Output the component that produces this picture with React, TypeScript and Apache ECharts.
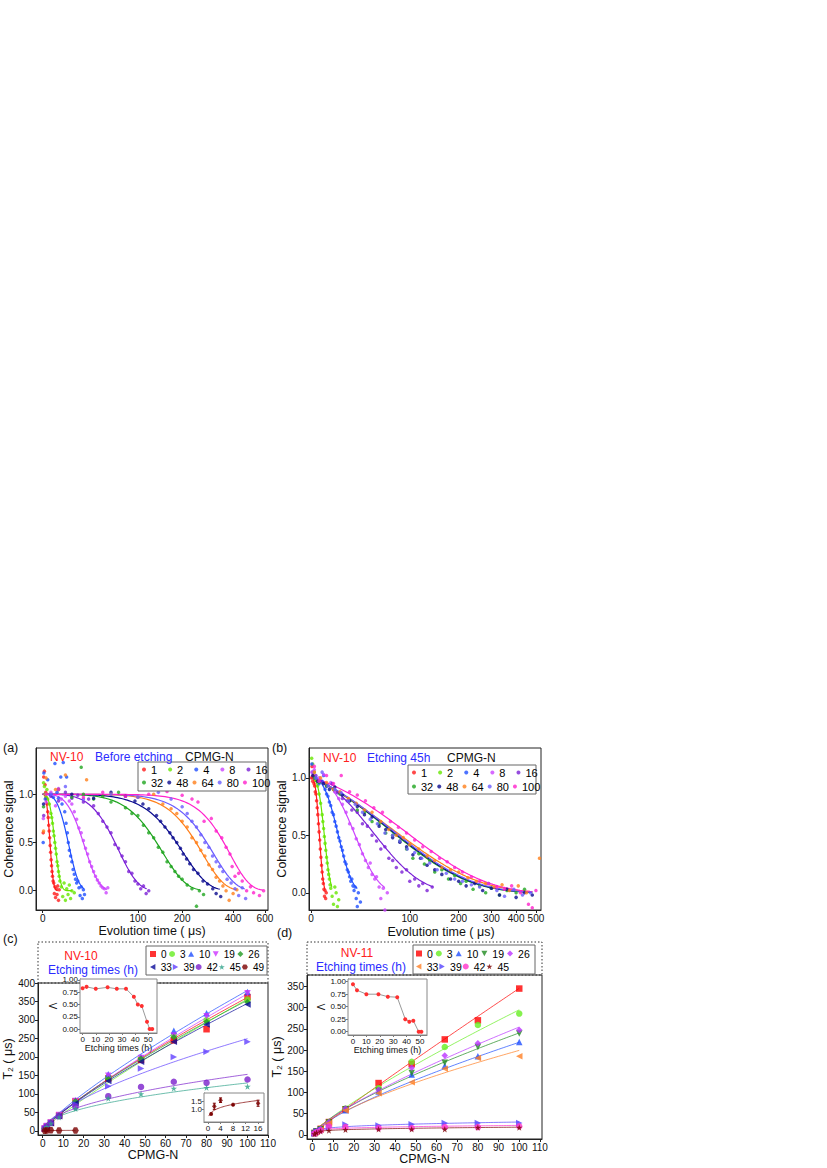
import React, { useEffect, useRef } from "react";
import * as echarts from "echarts";

const FONT = "'Liberation Sans', Arial, Helvetica, sans-serif";

/* ---------------- panels (a) and (b): coherence decays ---------------- */
const pulseLabels = ["1", "2", "4", "8", "16", "32", "48", "64", "80", "100"];
const pulseColors = ["#ff1a1a", "#66e600", "#1f4fff", "#cc44ff", "#7a1fd6", "#1fa51f", "#0b0b8f", "#ff7f1a", "#6a5cff", "#ff22cc"];
const timeTicksA = [0, 100, 200, 400, 600];
const timeTicksB = [0, 100, 200, 300, 400, 500];
const coherenceTicks = [0, 0.5, 1.0];
// quasi-logarithmic time axes: u = ln(1 + t / offset)
const timeOffsetA = 50;
const timeOffsetB = 60;

// stretched-exponential fits C(t) = exp(-(t/T2)^n)
const fitT2A = [4.97, 8.59, 19.4, 33.8, 73.6, 153.7, 208, 270, 313, 388];
const fitExpA = [3, 3, 3, 3, 3, 3, 3, 3.5, 3.5, 4];
const fitEndA = [10, 20, 31, 55, 116, 257, 336, 419, 465, 584];
const fitT2B = [5.9, 9.6, 21.7, 39, 68.6, 110, 112, 120, 115, 137];
const fitExpB = [3, 3, 2.5, 2.2, 1.5, 1.15, 1.15, 1.1, 1.15, 1.2];
const fitEndB = [9, 14, 35, 65, 141, 480, 480, 480, 480, 480];

// (a) NV-10 before etching: [t (us), coherence]
const cohA1 = [[0.3,0.6],[0.6,1.18],[1,1.24],[1.4,1.1],[1.8,1.02],[2.2,0.96],[2.6,0.9],[3,0.82],[3.3,0.76],[3.6,0.68],[3.9,0.62],[4.2,0.55],[4.5,0.47],[4.8,0.4],[5.1,0.32],[5.4,0.26],[5.7,0.2],[6,0.15],[6.4,0.1],[6.8,0.08],[7.2,-0.03],[7.6,0.04],[8,-0.07],[8.5,0.02],[9,-0.04],[9.5,0.05],[10,-0.1],[10.5,0.01]];
const cohA2 = [[0.5,1.12],[1,1.08],[1.5,1.0],[2,0.97],[2.5,1.05],[3,0.95],[4,0.9],[5,0.8],[5.5,0.76],[6,0.7],[6.5,0.62],[7,0.57],[7.5,0.5],[8,0.44],[8.5,0.38],[9,0.3],[9.5,0.26],[10,0.2],[10.5,0.15],[11,0.1],[12,0.04],[13,-0.06],[14,0.08],[15,-0.1],[16,0.02],[17,-0.04],[18,0.06],[19,-0.08],[20,0.0],[22,-0.02]];
const cohA4 = [[0.3,0.5],[0.7,1.22],[1.5,0.95],[3,1.15],[5,1.0],[6.5,0.97],[7.6,1.32],[9,1.02],[10,0.96],[11.6,1.18],[12.5,0.9],[13.4,1.33],[14.5,0.82],[15.9,1.18],[15.5,0.7],[16.5,0.6],[17.2,0.5],[18,0.42],[19,0.36],[20,0.3],[21,0.22],[22,0.17],[23,0.12],[24,0.08],[25,0.1],[26,0.03],[27,-0.05],[28,0.04],[29,-0.08],[30,0.01],[31,-0.04]];
const cohA8 = [[0.4,0.75],[2,0.92],[5,1.02],[8,0.88],[10,1.06],[12,0.95],[15,0.98],[18,0.93],[20,0.9],[22,0.82],[24,0.74],[26,0.65],[28,0.6],[30,0.52],[32,0.44],[34,0.38],[36,0.3],[38,0.25],[40,0.2],[42,0.15],[44,0.11],[46,0.08],[48,0.05],[50,0.03],[52,0.02],[54,-0.02],[56,0.03]];
const cohA16 = [[0.6,0.78],[5,0.98],[10,0.93],[15,1.02],[20,0.96],[25,0.99],[30,0.92],[35,0.95],[40,0.88],[45,0.8],[50,0.72],[55,0.66],[60,0.6],[65,0.48],[70,0.44],[75,0.36],[80,0.3],[85,0.2],[90,0.18],[95,0.1],[100,0.07],[105,0.02],[110,0.05],[115,-0.03],[120,0.0]];
const cohA32 = [[0.5,0.87],[10,1.05],[20,0.97],[28,1.28],[30,1.0],[40,0.95],[50,0.98],[60,0.92],[70,1.02],[80,0.86],[90,0.8],[100,0.78],[110,0.68],[120,0.6],[130,0.55],[140,0.45],[150,0.4],[160,0.3],[170,0.25],[180,0.2],[190,0.15],[200,0.12],[215,0.06],[230,0.02],[245,-0.16],[255,0.0],[270,-0.04]];
const cohA48 = [[0.5,0.9],[20,1.0],[40,0.96],[60,1.02],[80,0.98],[95,0.93],[109,0.9],[120,0.85],[136,0.78],[145,0.72],[155,0.66],[167,0.6],[175,0.55],[185,0.5],[195,0.44],[203,0.38],[213,0.33],[223,0.28],[235,0.22],[250,0.18],[268,0.1],[285,0.07],[306,0.02],[320,-0.03],[340,-0.06]];
const cohA64 = [[0.5,0.62],[2,1.17],[8,1.05],[15,1.2],[33,1.15],[60,1.0],[100,0.97],[130,1.0],[150,0.9],[170,0.85],[185,0.8],[200,0.72],[215,0.66],[230,0.55],[245,0.5],[260,0.42],[275,0.36],[290,0.27],[305,0.22],[320,0.14],[335,0.1],[350,0.05],[365,0.0],[380,-0.1],[400,-0.03],[420,0.01]];
const cohA80 = [[5,1.0],[15,1.08],[30,0.95],[60,1.0],[100,0.97],[140,1.02],[170,0.95],[200,0.87],[215,0.8],[230,0.72],[245,0.66],[260,0.58],[275,0.5],[290,0.45],[305,0.36],[320,0.3],[335,0.25],[350,0.2],[370,0.12],[390,0.08],[410,0.02],[430,-0.05],[450,0.03],[470,-0.08]];
const cohA100 = [[2,1.0],[10,1.05],[30,0.97],[50,1.02],[80,0.98],[120,1.0],[160,1.03],[200,0.99],[230,0.95],[250,0.92],[272,0.72],[300,0.75],[320,0.62],[345,0.55],[365,0.45],[384,0.38],[395,0.25],[410,0.15],[430,0.18],[450,0.1],[476,0.0],[500,0.04],[520,-0.02],[560,-0.05],[590,0.0]];
const cohA = [cohA1, cohA2, cohA4, cohA8, cohA16, cohA32, cohA48, cohA64, cohA80, cohA100];

// (b) NV-10 after 45 h etching: [t (us), coherence]
const cohB1 = [[0.3,1.0],[0.6,1.1],[1,0.97],[1.4,1.02],[1.8,0.95],[2.2,0.93],[2.6,0.88],[3,0.86],[3.4,0.8],[3.8,0.74],[4.2,0.68],[4.6,0.6],[5,0.53],[5.4,0.46],[5.8,0.38],[6.2,0.31],[6.6,0.24],[7,0.18],[7.4,0.12],[7.8,0.08],[8.2,0.03],[8.6,-0.03],[9,0.02],[9.4,-0.05],[9.8,0.0]];
const cohB2 = [[0.4,1.17],[1,1.12],[2,1.05],[3,0.98],[4,0.93],[5,0.86],[6,0.78],[7,0.68],[7.5,0.62],[8,0.56],[8.5,0.49],[9,0.43],[9.5,0.37],[10,0.31],[10.5,0.26],[11,0.2],[11.5,0.16],[12,0.12],[12.5,0.07],[13,0.04],[14,-0.03],[15,-0.1],[16,0.05],[17,0.0],[18,-0.12],[19,-0.06]];
const cohB4 = [[0.5,1.12],[1,1.05],[3,1.0],[5,0.95],[7,0.97],[8,1.02],[9,0.9],[10,0.86],[11,0.84],[12,0.79],[13,0.76],[14,0.7],[15,0.68],[16,0.62],[17,0.58],[18,0.53],[19,0.48],[20,0.45],[21,0.4],[22,0.37],[23,0.32],[24,0.27],[25,0.25],[26,0.2],[27,0.18],[28,0.14],[29,0.1],[30,0.12],[31,0.06],[32,0.02],[33,0.05],[34,-0.05],[35,-0.12],[36,0.0],[38,-0.08]];
const cohB8 = [[0.5,1.05],[2,1.07],[5,1.0],[8,1.03],[10,0.93],[13,0.96],[16,0.88],[19,0.82],[22,0.77],[25,0.7],[28,0.6],[31,0.56],[34,0.47],[37,0.42],[40,0.34],[43,0.28],[46,0.22],[48,0.26],[50,0.16],[53,0.12],[55,0.14],[58,0.05],[60,-0.05],[63,0.04],[65,-0.15],[68,0.0]];
const cohB16 = [[3,1.02],[6,0.97],[10,0.93],[14,0.95],[18,0.87],[22,0.82],[26,0.8],[30,0.72],[35,0.7],[40,0.6],[45,0.58],[50,0.5],[55,0.45],[60,0.38],[65,0.4],[70,0.3],[75,0.28],[80,0.22],[88,0.18],[95,0.2],[100,0.1],[108,0.12],[115,0.06],[122,0.08],[130,0.02],[140,0.05]];
const cohB32 = [[2,1.0],[5,0.96],[10,0.93],[15,0.9],[20,0.86],[28,0.8],[35,0.72],[42,0.7],[50,0.62],[58,0.6],[66,0.52],[75,0.5],[85,0.45],[95,0.38],[105,0.3],[115,0.34],[125,0.25],[135,0.28],[145,0.18],[160,0.2],[175,0.12],[190,0.15],[205,0.08],[220,0.1],[240,0.03],[260,0.06],[280,0.0],[300,0.04],[330,-0.02],[360,0.02],[400,0.0],[440,0.03]];
const cohB48 = [[1,1.02],[4,0.97],[8,0.95],[12,0.9],[16,0.92],[22,0.85],[28,0.8],[35,0.75],[42,0.68],[50,0.66],[58,0.58],[66,0.55],[75,0.48],[85,0.44],[95,0.4],[105,0.33],[118,0.3],[130,0.24],[145,0.2],[160,0.16],[180,0.12],[200,0.1],[220,0.06],[245,0.08],[270,0.02],[300,0.04],[330,-0.02],[360,0.03],[400,-0.04],[440,0.0],[480,-0.02]];
const cohB64 = [[2,1.05],[6,1.0],[10,0.96],[15,0.9],[20,0.88],[27,0.82],[34,0.78],[42,0.72],[50,0.7],[60,0.62],[70,0.55],[80,0.5],[90,0.48],[100,0.42],[115,0.38],[130,0.32],[145,0.28],[160,0.22],[180,0.2],[200,0.18],[225,0.13],[250,0.1],[280,0.08],[310,0.05],[340,0.07],[370,0.02],[410,0.06],[450,0.0],[520,0.3]];
const cohB80 = [[3,1.0],[7,1.05],[11,0.93],[16,0.9],[21,0.87],[27,0.8],[33,0.77],[40,0.7],[48,0.64],[56,0.6],[65,0.52],[75,0.5],[85,0.45],[96,0.38],[108,0.35],[120,0.3],[135,0.26],[150,0.2],[170,0.17],[190,0.12],[210,0.1],[235,0.07],[260,0.05],[290,0.08],[320,0.02],[350,-0.03],[390,0.03],[430,-0.02],[470,0.0]];
const cohB100 = [[2,1.1],[5,0.97],[10,1.02],[15,0.95],[21,1.02],[28,0.88],[35,0.85],[43,0.8],[52,0.74],[62,0.7],[72,0.62],[83,0.57],[95,0.52],[108,0.46],[122,0.4],[138,0.36],[155,0.3],[172,0.27],[190,0.22],[210,0.18],[235,0.14],[260,0.1],[290,0.08],[320,0.05],[350,0.03],[380,0.06],[420,0.0],[460,-0.1],[480,-0.13],[500,0.02]];
const cohB = [cohB1, cohB2, cohB4, cohB8, cohB16, cohB32, cohB48, cohB64, cohB80, cohB100];

/* ---------------- panels (c) and (d): T2 versus CPMG-N ---------------- */
const cpmgN = [1, 2, 4, 8, 16, 32, 48, 64, 80, 100];
const cpmgTicks = [0, 10, 20, 30, 40, 50, 60, 70, 80, 90, 100, 110];
const t2TicksC = [0, 50, 100, 150, 200, 250, 300, 350, 400];
const t2TicksD = [0, 50, 100, 150, 200, 250, 300, 350];

const etchC = ["0", "3", "10", "19", "26", "33", "39", "42", "45", "49"];
const t2C = [
  [6, 12, 22, 42, 80, 142, 192, 245, 275, 362],
  [6, 12, 22, 42, 78, 145, 195, 258, 300, 355],
  [7, 13, 24, 44, 83, 153, 200, 271, 318, 376],
  [7, 13, 23, 43, 81, 149, 197, 258, 310, 372],
  [6, 12, 22, 42, 80, 140, 195, 253, 295, 348],
  [6, 12, 21, 40, 75, 135, 187, 241, 288, 342],
  [6, 12, 22, 40, 72, 121, 169, 200, 214, 241],
  [6, 12, 21, 40, 65, 94, 119, 133, 130, 139],
  [6, 11, 20, 37, 60, 88, 100, 115, 117, 120],
  [0.7, 1.2, 1.6, 1.3, 1.4, null, null, null, null, null],
];
// power-law fits T2 = A * N^lambda
const fitAC = [7.9, 6.2, 8.7, 7.4, 8.1, 7.9, 12.5, 15.3, 14.9, 0.79];
const fitLamC = [0.83, 0.88, 0.82, 0.85, 0.82, 0.82, 0.65, 0.5, 0.47, 0.25];
const fitEndC = [100, 100, 100, 100, 100, 100, 100, 100, 100, 16];

const etchD = ["0", "3", "10", "19", "26", "33", "39", "42", "45"];
const t2D = [
  [4, 8, 14, 30, 60, 122, 167, 225, 270, 345],
  [4, 8, 14, 30, 62, 110, 172, 207, 259, 286],
  [4, 8, 13, 28, 58, 102, 142, 163, 185, 219],
  [4, 8, 13, 29, 60, 104, 146, 170, 207, 239],
  [4, 8, 14, 30, 62, 106, 158, 187, 216, 247],
  [4, 7, 12, 27, 57, 98, 124, 156, 181, 185],
  [3, 8, 12, 18, 24, 22, 25, 28, 28, 28],
  [3, 6, 10, 20, 18, 16, 16, 18, 18, 20],
  [2, 5, 8, 10, 12, 13, 13, 13, 17, 17],
];
const fitAD = [4.35, 6.45, 6.9, 7.6, 7.0, 8.3, 9.5, 8.8, 6.5];
const fitLamD = [0.95, 0.83, 0.75, 0.75, 0.78, 0.69, 0.25, 0.2, 0.22];

// insets: exponent lambda versus etching time
const lamEtchC = [0, 3, 10, 19, 26, 33, 39, 42, 45, 49, 51, 53];
const lamValC = [0.83, 0.86, 0.82, 0.85, 0.82, 0.82, 0.66, 0.5, 0.47, 0.15, 0, 0];
const lamEtchD = [0, 3, 10, 19, 26, 33, 39, 42, 45, 49, 51];
const lamValD = [0.95, 0.83, 0.75, 0.75, 0.7, 0.69, 0.25, 0.2, 0.22, 0, 0];
const lamTicks = [0, 0.25, 0.5, 0.75, 1.0];
const etchTicks = [0, 10, 20, 30, 40, 50];

// inset: 49 h data with error bars
const n49 = [1, 2, 4, 8, 16];
const t2of49 = [0.7, 1.2, 1.6, 1.3, 1.4];
const err49 = [0.05, 0.2, 0.15, 0.05, 0.2];
const n49Ticks = [0, 4, 8, 12, 16];
const t2of49Ticks = [0.5, 1.0, 1.5, 2.0];

/* ---------------- styles ---------------- */
const STAR = "path://M50,0L61.8,35.5L99,35.5L68.9,57.4L80.4,93L50,71L19.6,93L31.1,57.4L1,35.5L38.2,35.5Z";
const HEX = "path://M25,6.7L75,6.7L100,50L75,93.3L25,93.3L0,50Z";
const TRI_UP = "path://M50,0L100,90L0,90Z";
const TRI_DOWN = "path://M0,10L100,10L50,100Z";
const TRI_LEFT = "path://M0,50L90,0L90,100Z";
const TRI_RIGHT = "path://M10,0L100,50L10,100Z";
const markC = [
  { symbol: "rect", color: "#ff0000" },
  { symbol: "circle", color: "#66ee22" },
  { symbol: TRI_UP, color: "#1f4fff" },
  { symbol: TRI_DOWN, color: "#cc33ff" },
  { symbol: "diamond", color: "#1f9a1f" },
  { symbol: TRI_LEFT, color: "#0a0a99" },
  { symbol: TRI_RIGHT, color: "#6040ff" },
  { symbol: "circle", color: "#7a1fcc" },
  { symbol: STAR, color: "#2fa38a" },
  { symbol: HEX, color: "#7a0000" },
];
const markD = [
  { symbol: "rect", color: "#ff0000" },
  { symbol: "circle", color: "#66ee22" },
  { symbol: TRI_UP, color: "#1f4fff" },
  { symbol: TRI_DOWN, color: "#1f8a1f" },
  { symbol: "diamond", color: "#bb33ff" },
  { symbol: TRI_LEFT, color: "#ff7f24" },
  { symbol: TRI_RIGHT, color: "#5544ff" },
  { symbol: "circle", color: "#ff33cc" },
  { symbol: STAR, color: "#7a0000" },
];

const toU = (t: number, c: number) => Math.log(1 + t / c);
const fromU = (u: number, c: number) => c * (Math.exp(u) - 1);

function decayCurve(T: number, n: number, tEnd: number, c: number) {
  const pts: number[][] = [];
  const uEnd = toU(tEnd, c);
  for (let i = 0; i <= 90; i++) {
    const u = (uEnd * i) / 90;
    const t = fromU(u, c);
    pts.push([u, Math.exp(-Math.pow(t / T, n))]);
  }
  return pts;
}
function powerCurve(A: number, lam: number, nStart: number, nEnd: number) {
  const pts: number[][] = [];
  for (let i = 0; i <= 80; i++) {
    const n = nStart + ((nEnd - nStart) * i) / 80;
    pts.push([n, A * Math.pow(n, lam)]);
  }
  return pts;
}

function valAxis(gridIndex: number, min: number, max: number, ticks: number[], fmt: (v: number) => string, o: any = {}) {
  const col = o.color || "#222";
  return {
    type: "value",
    gridIndex,
    min,
    max,
    axisLine: { show: true, onZero: false, lineStyle: { color: col, width: 1 } },
    axisTick: { show: true, customValues: ticks, length: o.tickLen ?? 3, lineStyle: { color: col } },
    axisLabel: {
      customValues: ticks,
      formatter: fmt,
      fontSize: o.fontSize ?? 10,
      fontFamily: FONT,
      color: "#111",
      margin: o.margin ?? 3,
      hideOverlap: false,
    },
    splitLine: { show: false },
    name: o.name,
    nameLocation: "middle",
    nameGap: o.nameGap ?? 15,
    nameTextStyle: { fontSize: o.nameSize ?? 12.5, fontFamily: FONT, color: "#111", padding: o.namePad ?? 0 },
  };
}

// one legend row (no frame; the frame is drawn as a graphic rect)
function legendRow(prefix: string, names: string[], left: number, top: number, o: any = {}) {
  return {
    left,
    top,
    data: names.map((n) => prefix + "|" + n),
    orient: "horizontal",
    itemWidth: o.iw ?? 6,
    itemHeight: o.iw ?? 6,
    itemGap: o.gap ?? 3,
    padding: 0,
    selectedMode: false,
    formatter: (name: string) => name.split("|")[1],
    textStyle: { fontSize: o.fs ?? 11, fontFamily: FONT, color: "#000" },
    z: 20,
  };
}

const txt = (x: number, y: number, text: string, fill: string, size: number, align = "left") => ({
  type: "text",
  x,
  y,
  silent: true,
  z: 100,
  style: { text, fill, fontSize: size, fontFamily: FONT, align, verticalAlign: "middle", textAlign: align, textVerticalAlign: "middle" },
});
const frame = (x: number, y: number, w: number, h: number, dashed = false) => ({
  type: "rect",
  silent: true,
  z: dashed ? 1 : 15,
  shape: { x, y, width: w, height: h },
  style: dashed
    ? { fill: "none", stroke: "#333", lineWidth: 1, lineDash: [1.5, 2] }
    : { fill: "#fff", stroke: "#666", lineWidth: 1 },
});

function buildOption() {
  const grids = [
    { left: 36, top: 748, width: 232, height: 162 },
    { left: 309, top: 748, width: 232, height: 162 },
    { left: 38, top: 983, width: 230, height: 152 },
    { left: 307, top: 975, width: 235, height: 164 },
    { left: 80, top: 979, width: 77, height: 54, inset: true },
    { left: 204, top: 1093, width: 60, height: 29, inset: true },
    { left: 348, top: 979, width: 79, height: 56, inset: true },
  ].map((g: any) => ({
    left: g.left,
    top: g.top,
    width: g.width,
    height: g.height,
    show: true,
    borderColor: g.inset ? "#888" : "#222",
    borderWidth: 1,
    backgroundColor: g.inset ? "#fff" : "transparent",
    z: g.inset ? 3 : 0,
  }));

  const fmtA = (v: number) => String(Math.round(fromU(v, timeOffsetA)));
  const fmtB = (v: number) => String(Math.round(fromU(v, timeOffsetB)));
  const f1 = (v: number) => v.toFixed(1);
  const f2 = (v: number) => v.toFixed(2);
  const f0 = (v: number) => String(Math.round(v));
  const inset = { fontSize: 8, color: "#777", tickLen: 2, margin: 2 };

  const xAxis = [
    valAxis(0, -0.077, 2.6, timeTicksA.map((t) => toU(t, timeOffsetA)), fmtA, { name: "Evolution time ( μs)", nameGap: 14 }),
    valAxis(1, -0.02, 2.284, timeTicksB.map((t) => toU(t, timeOffsetB)), fmtB, { name: "Evolution time ( μs)", nameGap: 15, namePad: [0, 0, 0, 32] }),
    valAxis(2, -2.3, 110, cpmgTicks, f0, { name: "CPMG-N", nameGap: 12 }),
    valAxis(3, -2.6, 111, cpmgTicks, f0, { name: "CPMG-N", nameGap: 11 }),
    valAxis(4, -2, 56.6, etchTicks, f0, { name: "Etching times (h)", nameGap: 10, nameSize: 9, ...inset }),
    valAxis(5, -1.3, 17.9, n49Ticks, f0, inset),
    valAxis(6, -3.7, 55.2, etchTicks, f0, { name: "Etching times (h)", nameGap: 10, nameSize: 9, ...inset }),
  ];
  const yAxis = [
    valAxis(0, -0.2, 1.48, coherenceTicks, f1, { name: "Coherence signal", nameGap: 19 }),
    valAxis(1, -0.15, 1.26, coherenceTicks, f1, { name: "Coherence signal", nameGap: 19 }),
    valAxis(2, -11, 400, t2TicksC, f0, { name: "T₂ ( μs)", nameGap: 20 }),
    valAxis(3, -10, 377, t2TicksD, f0, { name: "T₂ ( μs)", nameGap: 19 }),
    valAxis(4, -0.08, 1.02, lamTicks, f2, { name: "Λ", nameGap: 20, nameSize: 10, ...inset }),
    valAxis(5, 0.17, 2.07, t2of49Ticks, f1, inset),
    valAxis(6, -0.066, 1.054, lamTicks, f2, { name: "Λ", nameGap: 20, nameSize: 10, ...inset }),
  ];

  const series: any[] = [];
  // (a) and (b)
  pulseLabels.forEach((p, i) => {
    series.push({
      type: "scatter", name: "a|" + p, xAxisIndex: 0, yAxisIndex: 0,
      data: cohA[i].map(([t, c]) => [toU(t, timeOffsetA), c]),
      symbol: "circle", symbolSize: 3.5, itemStyle: { color: pulseColors[i] }, z: 3,
    });
    series.push({
      type: "line", name: "afit|" + p, xAxisIndex: 0, yAxisIndex: 0,
      data: decayCurve(fitT2A[i], fitExpA[i], fitEndA[i], timeOffsetA),
      showSymbol: false, symbol: "none", lineStyle: { color: pulseColors[i], width: 1.2 }, z: 2, silent: true,
    });
    series.push({
      type: "scatter", name: "b|" + p, xAxisIndex: 1, yAxisIndex: 1,
      data: cohB[i].map(([t, c]) => [toU(t, timeOffsetB), c]),
      symbol: "circle", symbolSize: 3.5, itemStyle: { color: pulseColors[i] }, z: 3,
    });
    series.push({
      type: "line", name: "bfit|" + p, xAxisIndex: 1, yAxisIndex: 1,
      data: decayCurve(fitT2B[i], fitExpB[i], fitEndB[i], timeOffsetB),
      showSymbol: false, symbol: "none", lineStyle: { color: pulseColors[i], width: 1.2 }, z: 2, silent: true,
    });
  });

  // (c)
  etchC.forEach((e, i) => {
    const pts: number[][] = [];
    cpmgN.forEach((n, j) => {
      const v = t2C[i][j];
      if (v !== null && v !== undefined) pts.push([n, v]);
    });
    series.push({
      type: "scatter", name: "c|" + e, xAxisIndex: 2, yAxisIndex: 2, data: pts,
      symbol: markC[i].symbol, symbolSize: 6.5,
      itemStyle: { color: markC[i].color }, z: 4,
    });
    series.push({
      type: "line", name: "cfit|" + e, xAxisIndex: 2, yAxisIndex: 2,
      data: powerCurve(fitAC[i], fitLamC[i], 0, fitEndC[i]),
      showSymbol: false, symbol: "none", lineStyle: { color: markC[i].color, width: 1, opacity: 0.7 }, z: 3, silent: true,
    });
  });
  // (d)
  etchD.forEach((e, i) => {
    series.push({
      type: "scatter", name: "d|" + e, xAxisIndex: 3, yAxisIndex: 3,
      data: cpmgN.map((n, j) => [n, t2D[i][j]]),
      symbol: markD[i].symbol, symbolSize: 6.5,
      itemStyle: { color: markD[i].color }, z: 4,
    });
    series.push({
      type: "line", name: "dfit|" + e, xAxisIndex: 3, yAxisIndex: 3,
      data: powerCurve(fitAD[i], fitLamD[i], 0, 100),
      showSymbol: false, symbol: "none", lineStyle: { color: markD[i].color, width: 1, opacity: 0.7 }, z: 3, silent: true,
    });
  });

  // insets
  series.push({
    type: "line", name: "lamC", xAxisIndex: 4, yAxisIndex: 4,
    data: lamEtchC.map((t, i) => [t, lamValC[i]]),
    symbol: "circle", symbolSize: 4, itemStyle: { color: "#ff3030" },
    lineStyle: { color: "#999", width: 1 }, z: 10,
  });
  series.push({
    type: "line", name: "lamD", xAxisIndex: 6, yAxisIndex: 6,
    data: lamEtchD.map((t, i) => [t, lamValD[i]]),
    symbol: "circle", symbolSize: 4, itemStyle: { color: "#ff3030" },
    lineStyle: { color: "#999", width: 1 }, z: 10,
  });
  series.push({
    type: "line", name: "fit49", xAxisIndex: 5, yAxisIndex: 5,
    data: powerCurve(fitAC[9], fitLamC[9], 0.25, 16),
    showSymbol: false, symbol: "none", lineStyle: { color: "#a04040", width: 1 }, z: 10, silent: true,
  });
  series.push({
    type: "custom", name: "err49", xAxisIndex: 5, yAxisIndex: 5, z: 11,
    data: n49.map((n, i) => [n, t2of49[i] - err49[i], t2of49[i] + err49[i]]),
    encode: { x: 0, y: [1, 2] },
    renderItem: (params: any, api: any) => {
      const lo = api.coord([api.value(0), api.value(1)]);
      const hi = api.coord([api.value(0), api.value(2)]);
      const st = { stroke: "#7a0000", lineWidth: 1 };
      return {
        type: "group",
        children: [
          { type: "line", shape: { x1: lo[0], y1: lo[1], x2: hi[0], y2: hi[1] }, style: st },
          { type: "line", shape: { x1: lo[0] - 1.5, y1: lo[1], x2: lo[0] + 1.5, y2: lo[1] }, style: st },
          { type: "line", shape: { x1: hi[0] - 1.5, y1: hi[1], x2: hi[0] + 1.5, y2: hi[1] }, style: st },
        ],
      };
    },
  });
  series.push({
    type: "scatter", name: "pts49", xAxisIndex: 5, yAxisIndex: 5, z: 12,
    data: n49.map((n, i) => [n, t2of49[i]]),
    symbol: HEX, symbolSize: 4, itemStyle: { color: "#7a0000" },
  });

  const legend = [
    legendRow("a", pulseLabels.slice(0, 5), 142, 764, { iw: 4, gap: 11, fs: 11 }),
    legendRow("a", pulseLabels.slice(5), 142, 777, { iw: 4, gap: 4, fs: 11 }),
    legendRow("b", pulseLabels.slice(0, 5), 412, 767, { iw: 4, gap: 11, fs: 11 }),
    legendRow("b", pulseLabels.slice(5), 412, 781, { iw: 4, gap: 4, fs: 11 }),
    legendRow("c", etchC.slice(0, 5), 150, 949, { iw: 6, gap: 2.5, fs: 10 }),
    legendRow("c", etchC.slice(5), 150, 962, { iw: 6, gap: 1, fs: 10 }),
    legendRow("d", etchD.slice(0, 5), 416, 948, { iw: 6, gap: 3, fs: 10.5 }),
    legendRow("d", etchD.slice(5), 416, 961, { iw: 6, gap: 1, fs: 10.5 }),
  ];

  const graphic = [
    frame(38, 942, 230, 41, true),
    frame(307, 942, 235, 33, true),
    frame(138, 762, 128, 29),
    frame(408, 765, 128, 29),
    frame(146, 946, 121, 29),
    frame(413, 945, 122, 29),
    txt(3, 748, "(a)", "#111", 12.5),
    txt(272, 748, "(b)", "#111", 12.5),
    txt(3, 939, "(c)", "#111", 12.5),
    txt(277, 933, "(d)", "#111", 12.5),
    txt(50, 757, "NV-10", "#ff2020", 12),
    txt(95, 757, "Before etching", "#2b2bff", 12),
    txt(185, 757, "CPMG-N", "#111", 12),
    txt(323, 758, "NV-10", "#ff2020", 12),
    txt(367, 758, "Etching 45h", "#2b2bff", 12),
    txt(447, 758, "CPMG-N", "#111", 12),
    txt(81, 956, "NV-10", "#ff2020", 12, "center"),
    txt(93, 970, "Etching times (h)", "#2b2bff", 12, "center"),
    txt(357, 953, "NV-11", "#ff2020", 12, "center"),
    txt(361, 967, "Etching times (h)", "#2b2bff", 12, "center"),
  ];

  return {
    animation: false,
    backgroundColor: "#fff",
    textStyle: { fontFamily: FONT },
    grid: grids,
    xAxis,
    yAxis,
    legend,
    series,
    graphic,
  };
}

export default function App() {
  const ref = useRef<HTMLDivElement>(null);
  useEffect(() => {
    const chart = echarts.init(ref.current as HTMLDivElement, undefined, { renderer: "svg" });
    chart.setOption(buildOption() as any);
    return () => chart.dispose();
  }, []);
  return <div ref={ref} style={{ position: "absolute", left: 0, top: 0, width: 827, height: 1168, background: "#fff" }} />;
}
